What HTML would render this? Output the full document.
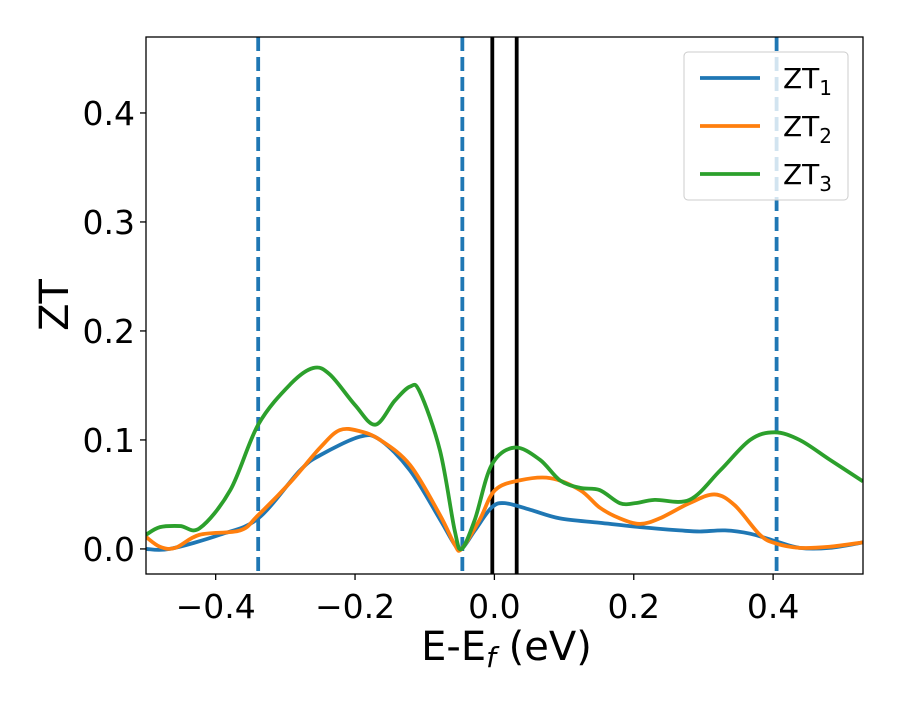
<!DOCTYPE html>
<html><head><meta charset="utf-8"><style>
body{margin:0;background:#fff}
text{font-family:"DejaVu Sans","Liberation Sans",sans-serif;fill:#000}
</style></head><body>
<svg id="chart" width="900" height="700" viewBox="0 0 900 700" xmlns="http://www.w3.org/2000/svg">
<rect width="900" height="700" fill="#fff"/>
<g id="plot"></g>
</svg>
<script>
const xTicks=[-0.4,-0.2,0.0,0.2,0.4];
const xTickLabels=["\u22120.4","\u22120.2","0.0","0.2","0.4"];
const yTicks=[0,0.1,0.2,0.3,0.4];
const yTickLabels=["0.0","0.1","0.2","0.3","0.4"];
const dashedLines=[-0.339,-0.046,0.405];
const solidLines=[-0.003,0.032];
const zt1X=[-0.5,-0.466,-0.394,-0.339,-0.279,-0.25,-0.193,-0.164,-0.121,-0.078,-0.057,-0.047,-0.028,-0.004,0.015,0.051,0.094,0.151,0.209,0.266,0.295,0.331,0.367,0.404,0.438,0.481,0.529];
const zt1Y=[0.0,0.0,0.013,0.028,0.072,0.086,0.103,0.1,0.072,0.027,0.004,0.0,0.017,0.038,0.042,0.036,0.028,0.024,0.02,0.017,0.016,0.017,0.014,0.007,0.001,0.001,0.006];
const zt2X=[-0.5,-0.48,-0.458,-0.423,-0.365,-0.339,-0.293,-0.25,-0.222,-0.193,-0.164,-0.121,-0.078,-0.057,-0.047,-0.021,0.001,0.037,0.08,0.123,0.151,0.18,0.209,0.237,0.28,0.316,0.345,0.381,0.404,0.438,0.481,0.529];
const zt2Y=[0.011,0.002,0.001,0.013,0.017,0.031,0.061,0.093,0.109,0.108,0.1,0.077,0.031,0.004,0.0,0.027,0.054,0.063,0.065,0.054,0.038,0.028,0.023,0.028,0.042,0.05,0.04,0.013,0.005,0.001,0.002,0.006];
const zt3X=[-0.5,-0.48,-0.451,-0.423,-0.379,-0.339,-0.293,-0.26,-0.236,-0.2,-0.171,-0.143,-0.121,-0.107,-0.078,-0.057,-0.047,-0.028,-0.004,0.029,0.065,0.094,0.123,0.151,0.18,0.202,0.23,0.28,0.324,0.367,0.402,0.438,0.481,0.529];
const zt3Y=[0.013,0.02,0.021,0.019,0.054,0.114,0.151,0.166,0.16,0.132,0.114,0.136,0.149,0.144,0.09,0.017,0.0,0.027,0.077,0.093,0.082,0.063,0.056,0.054,0.042,0.042,0.045,0.045,0.072,0.1,0.107,0.1,0.082,0.062];
const series=[{name:"zt1",color:"#1f77b4",x:zt1X,y:zt1Y,sub:"1"},{name:"zt2",color:"#ff7f0e",x:zt2X,y:zt2Y,sub:"2"},{name:"zt3",color:"#2ca02c",x:zt3X,y:zt3Y,sub:"3"}];
const L=146,R=863,T=37,B=574,xmin=-0.5,xmax=0.529,ymin=-0.023,ymax=0.4697;
const sx=v=>L+(v-xmin)/(xmax-xmin)*(R-L);
const sy=v=>B-(v-ymin)/(ymax-ymin)*(B-T);
const NS="http://www.w3.org/2000/svg";
const g=document.getElementById('plot');
function mk(tag,attrs,parent){const e=document.createElementNS(NS,tag);for(const k in attrs)e.setAttribute(k,attrs[k]);(parent||g).appendChild(e);return e;}
const clip=mk('clipPath',{id:'clip'});mk('rect',{x:L,y:T,width:R-L,height:B-T},clip);
dashedLines.forEach((v,i)=>{const l=mk('line',{x1:sx(v),x2:sx(v),y1:T,y2:B,stroke:'#1f77b4','stroke-width':3.8,'stroke-dasharray':'14,6'});

});
solidLines.forEach((v,i)=>{const l=mk('line',{x1:sx(v),x2:sx(v),y1:T,y2:B,stroke:'#000','stroke-width':3.8});

});
function smooth(px,py){let d='M'+px[0]+','+py[0];for(let i=0;i<px.length-1;i++){const x0=px[i-1]??px[i],y0=py[i-1]??py[i],x3=px[i+2]??px[i+1],y3=py[i+2]??py[i+1];
const c1x=px[i]+(px[i+1]-x0)/6,c1y=py[i]+(py[i+1]-y0)/6,c2x=px[i+1]-(x3-px[i])/6,c2y=py[i+1]-(y3-py[i])/6;d+=` C${c1x},${c1y} ${c2x},${c2y} ${px[i+1]},${py[i+1]}`;}return d;}
series.forEach(s=>{const p=mk('path',{d:smooth(s.x.map(sx),s.y.map(sy)),fill:'none',stroke:s.color,'stroke-width':3.8,'clip-path':'url(#clip)'});

});
const ax=mk('rect',{x:L,y:T,width:R-L,height:B-T,fill:'none',stroke:'#000','stroke-width':1.3});


xTicks.forEach((v,i)=>{mk('line',{x1:sx(v),x2:sx(v),y1:B,y2:B+6,stroke:'#000','stroke-width':1.3});
const t=mk('text',{x:sx(v),y:B+44,'text-anchor':'middle','font-size':33});t.textContent=xTickLabels[i];

});
yTicks.forEach((v,i)=>{mk('line',{x1:L-6,x2:L,y1:sy(v),y2:sy(v),stroke:'#000','stroke-width':1.3});
const t=mk('text',{x:L-11,y:sy(v)+12,'text-anchor':'end','font-size':33});t.textContent=yTickLabels[i];

});
const xt=mk('text',{x:(L+R)/2+2,y:660,'text-anchor':'middle','font-size':40});xt.innerHTML='E-E<tspan font-style="italic" font-size="28" dy="7">f</tspan><tspan dy="-7"> (eV)</tspan>';


const yt=mk('text',{x:0,y:0,'text-anchor':'middle','font-size':40,transform:'translate(68,305) rotate(-90)'});yt.textContent='ZT';


const lg=mk('g',{});


mk('rect',{x:684,y:52,width:164,height:148,rx:4,fill:'#fff','fill-opacity':0.8,stroke:'#ccc','stroke-width':1},lg);
series.forEach((s,i)=>{const y=78+i*48;
const e=mk('g',{},lg);


mk('line',{x1:700,x2:760,y1:y,y2:y,stroke:s.color,'stroke-width':3.8},e);
const t=mk('text',{x:783,y:y+10,'font-size':28},e);t.innerHTML='ZT<tspan font-size="20" dy="7">'+s.sub+'</tspan>';});
</script>
</body></html>
